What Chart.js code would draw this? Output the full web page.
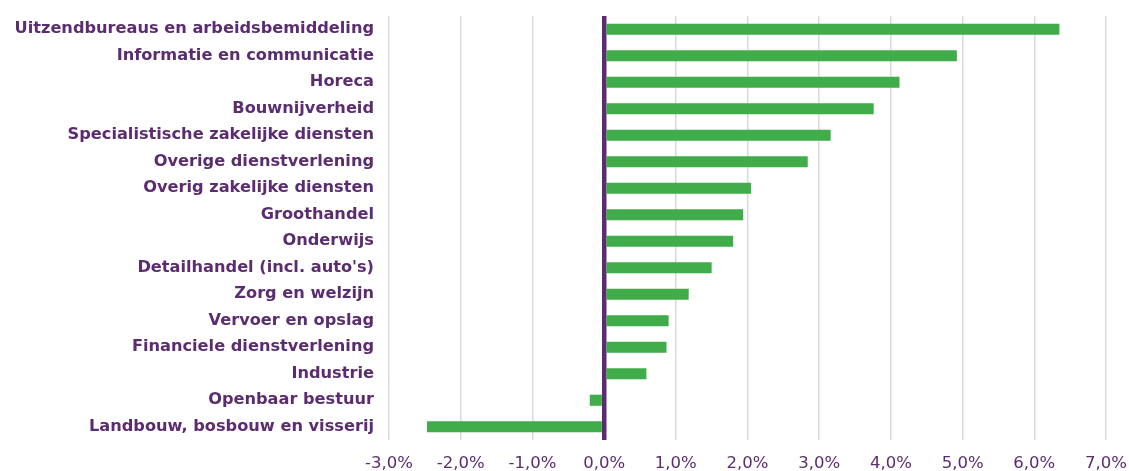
<!DOCTYPE html>
<html>
<head>
<meta charset="utf-8">
<script src="https://cdn.jsdelivr.net/npm/chart.js@4.4.0/dist/chart.umd.min.js"></script>
<style>
  html, body { margin: 0; padding: 0; background: #fff; }
</style>
</head>
<body>
<canvas id="chart" width="1129" height="471"></canvas>
<script>
// Sectors (top to bottom) and growth in %
const sectors = [
  "Uitzendbureaus en arbeidsbemiddeling",
  "Informatie en communicatie",
  "Horeca",
  "Bouwnijverheid",
  "Specialistische zakelijke diensten",
  "Overige dienstverlening",
  "Overig zakelijke diensten",
  "Groothandel",
  "Onderwijs",
  "Detailhandel (incl. auto's)",
  "Zorg en welzijn",
  "Vervoer en opslag",
  "Financiele dienstverlening",
  "Industrie",
  "Openbaar bestuur",
  "Landbouw, bosbouw en visserij"
];
const growth = [6.35, 4.92, 4.12, 3.76, 3.16, 2.84, 2.05, 1.94, 1.80, 1.50, 1.18, 0.90, 0.87, 0.59, -0.20, -2.47];
const xMin = -3;
const xMax = 7;

const purple = "#5b2c6f";
const green = "#40ad4a";

Chart.defaults.font.family = "'DejaVu Sans', sans-serif";

// drop the extra padding the scales ask for, so layout.padding decides the plot area
function noScalePadding(scale) {
  scale.paddingTop = 0;
  scale.paddingBottom = 0;
  scale.paddingLeft = 0;
  scale.paddingRight = 0;
}

const ctx = document.getElementById("chart").getContext("2d");
new Chart(ctx, {
  type: "bar",
  data: {
    labels: sectors,
    datasets: [{
      data: growth,
      backgroundColor: green,
      borderWidth: 0,
      barPercentage: 0.42,
      categoryPercentage: 1.0
    }]
  },
  options: {
    indexAxis: "y",
    responsive: false,
    animation: false,
    layout: { padding: { top: 16, right: 23, bottom: 0, left: 0 } },
    plugins: {
      legend: { display: false },
      tooltip: { enabled: false }
    },
    scales: {
      x: {
        min: xMin,
        max: xMax,
        border: { display: false },
        grid: {
          drawTicks: false,
          color: c => c.tick && c.tick.value === 0 ? purple : "#d9d9d9",
          lineWidth: c => c.tick && c.tick.value === 0 ? 4.5 : 1.5
        },
        ticks: {
          stepSize: 1,
          padding: 14,
          color: purple,
          font: { size: 16.5 },
          callback: v => v.toFixed(1).replace(".", ",") + "%"
        },
        afterFit: scale => { scale.height = 31; noScalePadding(scale); }
      },
      y: {
        border: { display: false },
        grid: { display: false, drawTicks: false },
        ticks: {
          padding: 15,
          color: purple,
          font: { size: 16.2, weight: "bold" }
        },
        afterFit: scale => { scale.width = 389; noScalePadding(scale); }
      }
    }
  }
});
</script>
</body>
</html>
